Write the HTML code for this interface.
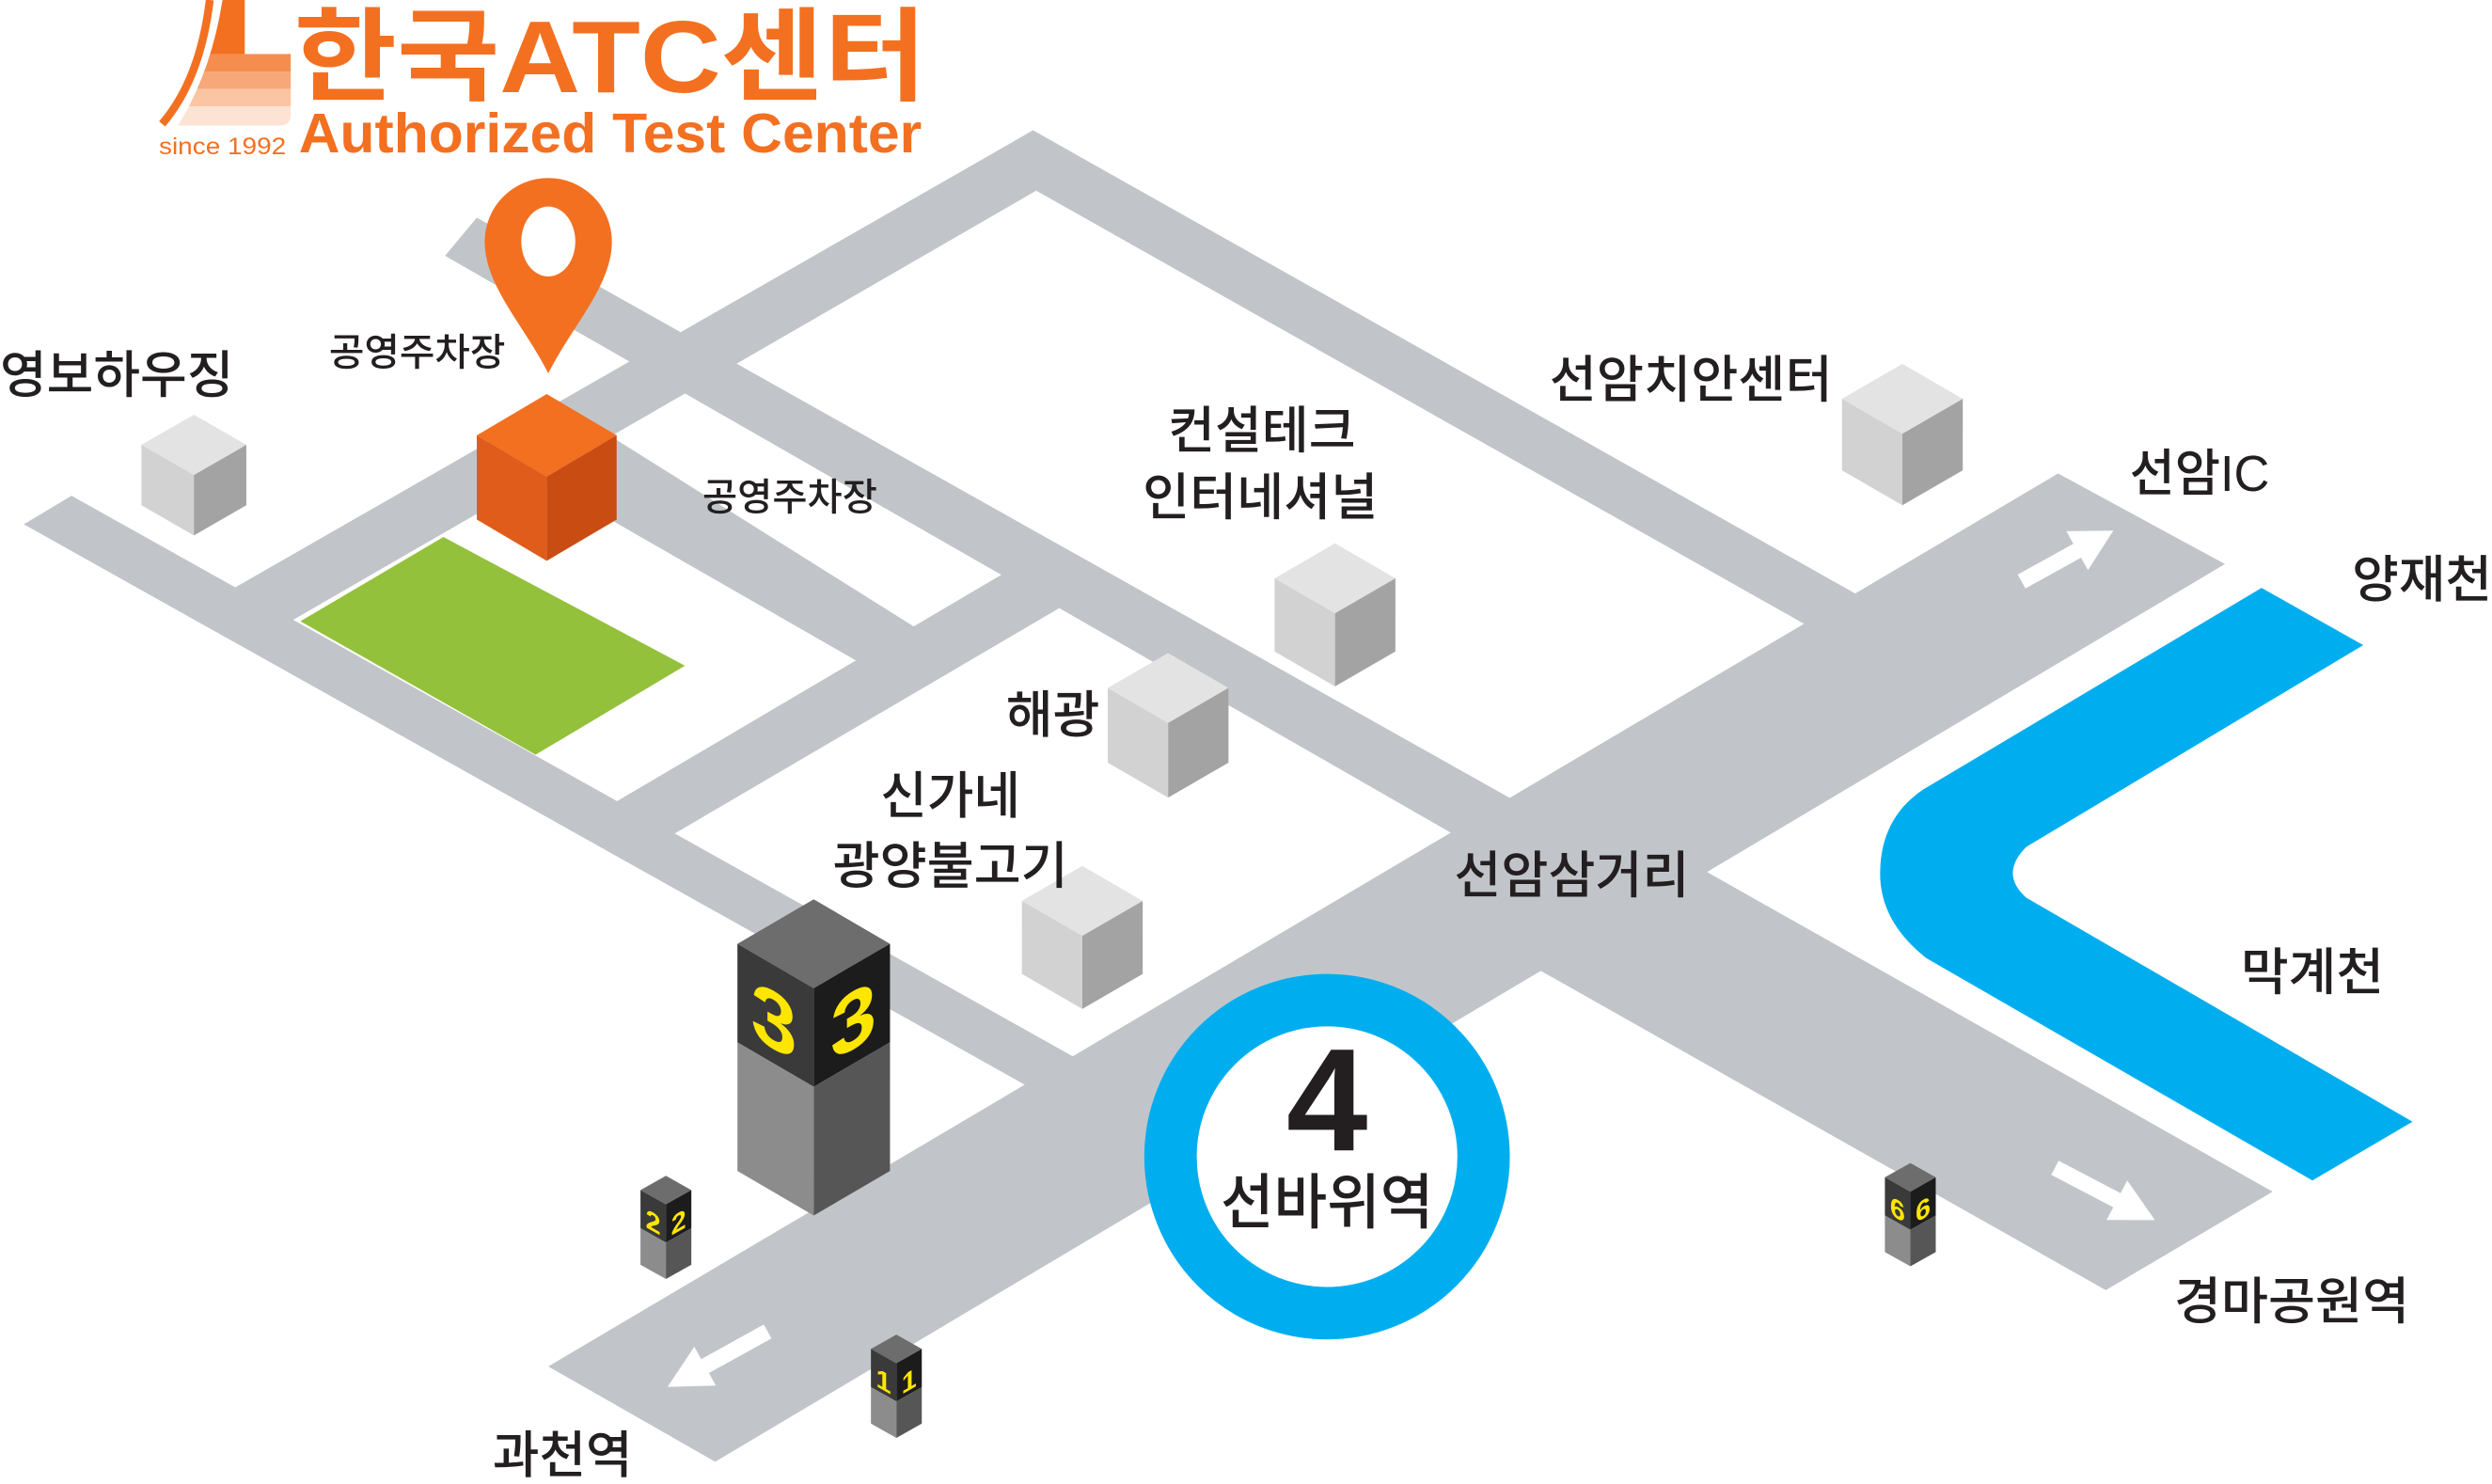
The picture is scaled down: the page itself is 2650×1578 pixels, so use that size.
<!DOCTYPE html>
<html><head><meta charset="utf-8"><style>html,body{margin:0;padding:0;background:#fff}svg{display:block}</style></head>
<body>
<svg width="2650" height="1578" viewBox="0 0 1568 934" preserveAspectRatio="none" xmlns="http://www.w3.org/2000/svg">
<defs>
<g id="tw">
<polygon points="0,0 16,9 0,18 -16,9" fill="#6d6d6d"/>
<polygon points="-16,9 0,18 0,42 -16,33" fill="#3a3a3a"/>
<polygon points="0,18 16,9 16,33 0,42" fill="#1c1c1c"/>
<polygon points="-16,33 0,42 0,65 -16,56" fill="#8c8c8c"/>
<polygon points="0,42 16,33 16,56 0,65" fill="#565656"/>
</g>
<clipPath id="lc"><path d="M140,0 L183,0 L183,72 Q183,79 176,79 L112,79 Q133,45 140,0Z"/></clipPath>
</defs>
<g fill="#c1c5ca">
<polygon points="45,312 720,690 690,708 15,330"/>
<polygon points="130,380 650,82 1185,383.5 1150,401 652,120 170,398.5"/>
<polygon points="300,137 955,505 918,527 280,161"/>
<polygon points="345,860 1295,298 1400,355 450,920"/>
<polygon points="950,600 1055,538 1430,750 1325,812"/>
<polygon points="650,350 690,369 400,539 370,515"/>
<polygon points="385,275 600,410 560,428 330,296"/>
</g>
<polygon points="189,391 279,338 431,419 337,475" fill="#94c13c"/>
<g fill="#fff">
<path transform="translate(1272,366) rotate(-29)" d="M0,-5 L40,-5 L40,-14 L66,0 L40,14 L40,5 L0,5Z"/>
<path transform="translate(1293,735) rotate(27.6)" d="M0,-5 L44,-5 L44,-14 L71,0 L44,14 L44,5 L0,5Z"/>
<path transform="translate(483,838) rotate(151)" d="M0,-5 L45,-5 L45,-14 L72,0 L45,14 L45,5 L0,5Z"/>
</g>
<path d="M1423,370 L1487,406 L1275,533 Q1258,550 1275,565 L1518,706 L1455,743 L1212,603 Q1183,580 1183,550 Q1183,515 1210,497 Z" fill="#00aeef"/>
<circle cx="835" cy="728" r="98.5" fill="#fff" stroke="#00aeef" stroke-width="33"/>
<g font-family="Liberation Sans, Noto Sans CJK KR, sans-serif" fill="#231f20" text-anchor="middle">
<text x="835" y="724" font-size="92" font-weight="bold" font-family="Liberation Sans, sans-serif">4</text>
<text x="835" y="770" font-size="38" font-weight="500" font-family="Noto Sans CJK KR, sans-serif" textLength="134" lengthAdjust="spacingAndGlyphs">선바위역</text>
</g>
<g>
<polygon points="122,261 155,280 122,299 89,280" fill="#e3e3e3"/><polygon points="89,280 122,299 122,337 89,318" fill="#d2d2d2"/><polygon points="122,299 155,280 155,318 122,337" fill="#a3a3a3"/>
<polygon points="1197,229 1235,251 1197,273 1159,251" fill="#e3e3e3"/><polygon points="1159,251 1197,273 1197,318 1159,296" fill="#d2d2d2"/><polygon points="1197,273 1235,251 1235,296 1197,318" fill="#a3a3a3"/>
<polygon points="840,342 878,364 840,386 802,364" fill="#e3e3e3"/><polygon points="802,364 840,386 840,432 802,410" fill="#d2d2d2"/><polygon points="840,386 878,364 878,410 840,432" fill="#a3a3a3"/>
<polygon points="735,411 773,433 735,455 697,433" fill="#e3e3e3"/><polygon points="697,433 735,455 735,502 697,480" fill="#d2d2d2"/><polygon points="735,455 773,433 773,480 735,502" fill="#a3a3a3"/>
<polygon points="681,545 719,567 681,589 643,567" fill="#e3e3e3"/><polygon points="643,567 681,589 681,635 643,613" fill="#d2d2d2"/><polygon points="681,589 719,567 719,613 681,635" fill="#a3a3a3"/>
<polygon points="344,248 388,274 344,300 300,274" fill="#f37021"/><polygon points="300,274 344,300 344,353 300,327" fill="#e05c1b"/><polygon points="344,300 388,274 388,327 344,353" fill="#c94c12"/>
<polygon points="512,566 560,594 512,622 464,594" fill="#6d6d6d"/>
<polygon points="464,594 512,622 512,684 464,656" fill="#3a3a3a"/>
<polygon points="512,622 560,594 560,656 512,684" fill="#1c1c1c"/>
<polygon points="464,656 512,684 512,765 464,737" fill="#8c8c8c"/>
<polygon points="512,684 560,656 560,737 512,765" fill="#565656"/>
</g>
<g font-family="Liberation Sans, sans-serif" font-weight="bold" fill="#ffe600" text-anchor="middle">
<text transform="translate(487,660) skewY(30)" font-size="52">3</text>
<text transform="translate(537,660) skewY(-30)" font-size="52">3</text>
</g>
<use href="#tw" transform="translate(419,740)"/>
<use href="#tw" transform="translate(564,840)"/>
<use href="#tw" transform="translate(1202,732)"/>
<g font-family="Liberation Sans, sans-serif" font-weight="bold" fill="#ffe600" text-anchor="middle" font-size="17">
<text transform="translate(411,775) skewY(30)">2</text><text transform="translate(427,775) skewY(-30)">2</text>
<text transform="translate(556,875) skewY(30)">1</text><text transform="translate(572,875) skewY(-30)">1</text>
<text transform="translate(1194,767) skewY(30)">6</text><text transform="translate(1210,767) skewY(-30)">6</text>
</g>
<path d="M345,235 C330,205 305,180 305,152 A40,40 0 1,1 385,152 C385,180 360,205 345,235Z" fill="#f37021"/>
<ellipse cx="345" cy="152" rx="17" ry="22" fill="#fff"/>
<path d="M132,0 Q126,50 102,78" fill="none" stroke="#f37021" stroke-width="5"/>
<g clip-path="url(#lc)">
<rect x="100" y="0" width="90" height="34" fill="#fff"/>
<rect x="100" y="0" width="54" height="34" fill="#f37021"/>
<rect x="100" y="34" width="90" height="11" fill="#f58d4f"/>
<rect x="100" y="45" width="90" height="11" fill="#f8a878"/>
<rect x="100" y="56" width="90" height="11" fill="#fbc5a3"/>
<rect x="100" y="67" width="90" height="12" fill="#fde3d3"/>
</g>
<g fill="#f37021" font-weight="bold">
<text x="185" y="58" font-size="64" font-family="Liberation Sans, Noto Sans CJK KR, sans-serif" textLength="398" lengthAdjust="spacingAndGlyphs">한국ATC센터</text>
<text x="188" y="96" font-size="35" font-family="Liberation Sans, sans-serif" textLength="392" lengthAdjust="spacingAndGlyphs">Authorized Test Center</text>
<text x="100" y="97" font-size="15" font-weight="normal" font-family="Liberation Sans, sans-serif" textLength="80" lengthAdjust="spacingAndGlyphs">since 1992</text>
</g>
<g font-family="Liberation Sans, Noto Sans CJK KR, sans-serif" fill="#231f20" font-weight="500" font-size="32">
<text x="0" y="247" textLength="147" lengthAdjust="spacingAndGlyphs">영보하우징</text>
<text x="207" y="230" font-size="24" textLength="111" lengthAdjust="spacingAndGlyphs">공영주차장</text>
<text x="442" y="321" font-size="24" textLength="110" lengthAdjust="spacingAndGlyphs">공영주차장</text>
<text x="735" y="282" textLength="118" lengthAdjust="spacingAndGlyphs">컨설테크</text>
<text x="719" y="324" textLength="148" lengthAdjust="spacingAndGlyphs">인터네셔널</text>
<text x="975" y="250" textLength="178" lengthAdjust="spacingAndGlyphs">선암치안센터</text>
<text x="1340" y="309" textLength="88" lengthAdjust="spacingAndGlyphs">선암IC</text>
<text x="1480" y="376" textLength="88" lengthAdjust="spacingAndGlyphs">양재천</text>
<text x="633" y="461" textLength="59" lengthAdjust="spacingAndGlyphs">해광</text>
<text x="554" y="512" textLength="88" lengthAdjust="spacingAndGlyphs">신가네</text>
<text x="524" y="556" textLength="148" lengthAdjust="spacingAndGlyphs">광양불고기</text>
<text x="915" y="562" textLength="148" lengthAdjust="spacingAndGlyphs">선암삼거리</text>
<text x="1410" y="623" textLength="90" lengthAdjust="spacingAndGlyphs">막계천</text>
<text x="1368" y="830" textLength="148" lengthAdjust="spacingAndGlyphs">경마공원역</text>
<text x="310" y="927" textLength="88" lengthAdjust="spacingAndGlyphs">과천역</text>
</g>
</svg>
</body></html>
